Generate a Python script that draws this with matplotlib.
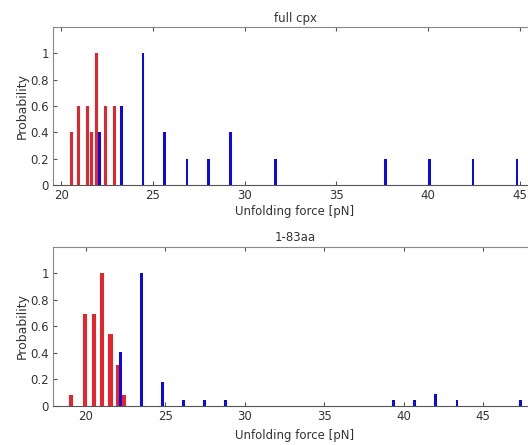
import numpy as np
import matplotlib.pyplot as plt

# full cpx
full_red_x = [20.54, 20.94, 21.41, 21.66, 21.90, 22.40, 22.89]
full_red_p = [0.4, 0.6, 0.6, 0.4, 1.0, 0.6, 0.6]
full_blue_x = [22.08, 23.29, 24.46, 25.65, 26.86, 28.03, 29.24, 31.70, 37.70, 40.07, 42.46, 44.86]
full_blue_p = [0.4, 0.6, 1.0, 0.4, 0.2, 0.2, 0.4, 0.2, 0.2, 0.2, 0.2, 0.2]

# 1-83aa
trunc_red_x = [19.07, 19.96, 20.49, 21.01, 21.54, 22.00, 22.41]
trunc_red_p = [0.08, 0.69, 0.69, 1.0, 0.54, 0.31, 0.08]
trunc_blue_x = [22.15, 23.50, 24.83, 26.14, 27.47, 28.80, 39.37, 40.70, 42.03, 43.36, 47.35]
trunc_blue_p = [0.41, 1.0, 0.18, 0.043, 0.043, 0.043, 0.043, 0.043, 0.09, 0.043, 0.043]

red = '#e8242a'
blue = '#0a0ae6'

fig = plt.figure(figsize=(5.28, 4.45), dpi=100)
ax1 = fig.add_axes([53/528, 0.584, (537-53)/528, 0.355])
ax2 = fig.add_axes([53/528, 0.088, (537-53)/528, 0.357])


def style(ax, xlim, title, lpad):
    ax.set_xlim(*xlim)
    ax.set_ylim(0, 1.2)
    ax.set_yticks([0, 0.2, 0.4, 0.6, 0.8, 1])
    ax.set_yticklabels(['0', '0.2', '0.4', '0.6', '0.8', '1'])
    ax.set_xticks([20, 25, 30, 35, 40, 45])
    ax.tick_params(direction='in', top=True, labelsize=8.5, length=3,
                   color='#555555', labelcolor='#333333', pad=3)
    for s in ax.spines.values():
        s.set_color('#888888')
        s.set_linewidth(0.8)
    ax.spines['bottom'].set_color('#555555')
    ax.spines['right'].set_visible(False)
    ax.set_xlabel('Unfolding force [pN]', fontsize=8.5, color='#333333', labelpad=lpad)
    ax.set_ylabel('Probability', fontsize=9, color='#333333', labelpad=1)
    ax.set_title(title, fontsize=8.5, color='#333333', pad=4)


ax1.bar(full_red_x, full_red_p, width=0.17, color=red, zorder=2)
ax1.bar(full_blue_x, full_blue_p, width=0.16, color=blue, zorder=3)
style(ax1, (19.55, 45.95), 'full cpx', 2)

ax2.bar(trunc_red_x, trunc_red_p, width=0.26, color=red, zorder=2)
ax2.bar(trunc_blue_x, trunc_blue_p, width=0.18, color=blue, zorder=3)
style(ax2, (17.92, 48.4), '1-83aa', 4)

fig.savefig('out.png', dpi=100)
